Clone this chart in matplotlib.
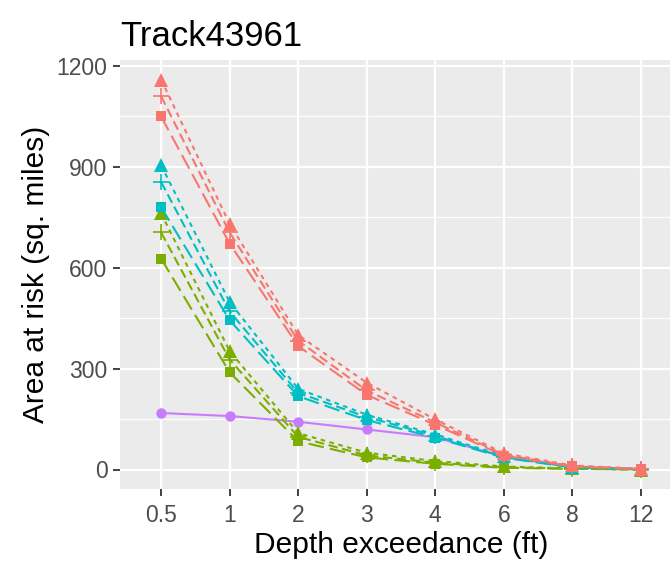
import numpy as np
import matplotlib.pyplot as plt

plt.rcParams['font.family'] = ['Liberation Sans', 'DejaVu Sans']

depthLabels = ['0.5', '1', '2', '3', '4', '6', '8', '12']

# three scenarios per colour group (triangle / plus / square), plus one solid series
redTri = [1160, 730, 400, 258, 149, 48, 12, 2]
redPlus = [1110, 705, 383, 235, 140, 44, 10, 2]
redSq = [1050, 672, 367, 222, 133, 41, 9, 1]
cyanTri = [905, 498, 240, 163, 104, 40, 8, 1]
cyanPlus = [855, 470, 228, 156, 100, 37, 7, 1]
cyanSq = [780, 444, 218, 147, 95, 35, 6, 1]
greenTri = [762, 352, 108, 50, 25, 9, 3, 0]
greenPlus = [705, 327, 97, 42, 20, 7, 2, 0]
greenSq = [627, 289, 84, 36, 17, 5, 2, 0]
purpleVals = [168, 159, 142, 119, 96, 38, 7, 1]

colours = {'red': '#F8766D', 'green': '#7CAE00', 'cyan': '#00BFC4', 'purple': '#C77CFF'}

fig = plt.figure(figsize=(6.7, 5.62), dpi=100)
ax = fig.add_axes([120 / 670, 73 / 562, 562 / 670, 429 / 562])
ax.set_facecolor('#EBEBEB')

x = np.arange(len(depthLabels))
lineW = 1.5

def drawGroup(tri, plus, sq, col):
    l, = ax.plot(x, tri, color=col, lw=lineW, marker='^', ms=9.5, mew=0)
    l.set_dashes([2.2, 2.2])
    l, = ax.plot(x, plus, color=col, lw=lineW, marker='+', ms=11, mew=1.2)
    l.set_dashes([4.5, 2.2])
    l, = ax.plot(x, sq, color=col, lw=lineW, marker='s', ms=7.2, mew=0)
    l.set_dashes([7.5, 3])

ax.plot(x, purpleVals, color=colours['purple'], lw=lineW, marker='o', ms=7.5, mew=0)
drawGroup(greenTri, greenPlus, greenSq, colours['green'])
drawGroup(cyanTri, cyanPlus, cyanSq, colours['cyan'])
drawGroup(redTri, redPlus, redSq, colours['red'])

ax.set_xlim(-0.6, 7.6)
ax.set_ylim(-58, 1218)
ax.set_xticks(x)
ax.set_xticklabels(depthLabels)
ax.set_yticks([0, 300, 600, 900, 1200])
ax.set_yticks([150, 450, 750, 1050], minor=True)

ax.grid(True, which='major', color='white', lw=1.6)
ax.grid(True, which='minor', axis='y', color='white', lw=0.8)
ax.set_axisbelow(True)
for s in ax.spines.values():
    s.set_visible(False)

ax.tick_params(axis='both', which='major', length=5, width=1.3, color='#333333',
               labelsize=16.5, labelcolor='#4D4D4D', pad=4)
ax.tick_params(axis='x', which='major', pad=6)
ax.tick_params(axis='y', which='minor', length=0)

ax.set_xlabel('Depth exceedance (ft)', fontsize=21.5, color='black', labelpad=3)
ax.set_ylabel('Area at risk (sq. miles)', fontsize=21.5, color='black', labelpad=5)
ax.set_title('Track43961', fontsize=25, loc='left', color='black', pad=10)

fig.savefig('out.png', dpi=100)
